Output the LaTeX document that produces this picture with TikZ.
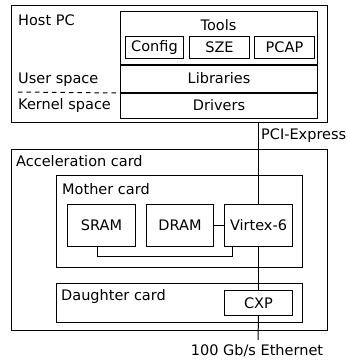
\documentclass[tikz,border=0pt]{standalone}
\usepackage{fontspec}
\setmainfont{DejaVu Sans}
\begin{document}
\begin{tikzpicture}[x=1pt,y=-1pt,
  box/.style={draw,line width=1pt,inner sep=0pt,anchor=north west,font=\fontsize{14.5}{17}\selectfont},
  lbl/.style={inner sep=0pt,anchor=base west,font=\fontsize{14.5}{17}\selectfont},
  wire/.style={line width=1pt},
  sep/.style={line width=2pt}]
\useasboundingbox (0,0) rectangle (347,362);
% Host PC
\node[box,minimum width=316pt,minimum height=117pt] (host) at (11,5) {};
\node[lbl] (hostl) at (18,25) {Host PC};
\node[box,minimum width=197pt,minimum height=53pt] (tools) at (120,11) {};
\node[lbl,anchor=base] (toolsl) at (218.5,30) {Tools};
\node[box,minimum width=58pt,minimum height=22pt] (config) at (125,36) {Config};
\node[box,minimum width=60pt,minimum height=22pt] (sze) at (189,36) {SZE};
\node[box,minimum width=60pt,minimum height=22pt] (pcap) at (254,36) {PCAP};
\node[box,minimum width=197pt,minimum height=28pt] (libs) at (120,64) {Libraries};
\node[box,minimum width=197pt,minimum height=26pt] (drv) at (120,92) {Drivers};
\draw[sep] (tools.south west) -- (tools.south east);
\draw[sep] (libs.south west) -- (libs.south east);
\node[lbl] (user) at (18,83) {User space};
\node[lbl] (kern) at (18,109) {Kernel space};
\coordinate (dashl) at (18,92);
\draw[wire,dash pattern=on 4.5pt off 4pt] (dashl) -- (libs.south west);
% Acceleration card
\node[box,minimum width=316pt,minimum height=181pt] (acc) at (11,149) {};
\node[lbl] (accl) at (16,166) {Acceleration card};
\node[box,minimum width=246pt,minimum height=92pt] (mother) at (56,175) {};
\node[lbl] (motherl) at (62,194) {Mother card};
\node[box,minimum width=68pt,minimum height=42pt] (sram) at (67,204) {SRAM};
\node[box,minimum width=67pt,minimum height=42pt] (dram) at (146,204) {DRAM};
\node[box,minimum width=68pt,minimum height=42pt] (virtex) at (224,204) {Virtex-6};
\node[box,minimum width=246pt,minimum height=39pt] (daughter) at (56,283) {};
\node[lbl] (daughterl) at (61,300) {Daughter card};
\node[box,minimum width=68pt,minimum height=25pt] (cxp) at (224,290) {CXP};
% connectors
\draw[wire] (host.south -| virtex.north) -- (virtex.north);
\node[lbl] (pcie) at (261,139) {PCI-Express};
\draw[wire] (virtex.south) -- (cxp.north);
\draw[wire] (dram.east) -- (virtex.west);
\draw[wire] ([xshift=-4pt]sram.south) |- (232,256) -- (232,246);
\coordinate (eth) at (258,340);
\draw[wire] (cxp.south) -- (eth);
\node[lbl,anchor=base] (ethl) at (257,355) {100 Gb/s Ethernet};
\end{tikzpicture}
\end{document}
